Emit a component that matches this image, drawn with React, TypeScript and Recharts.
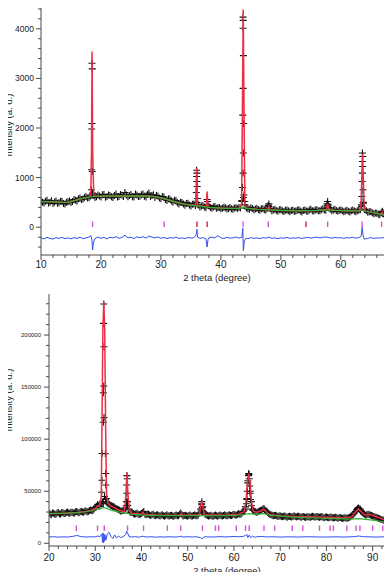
import React from 'react';
import { ComposedChart, Line, Scatter, XAxis, YAxis } from 'recharts';

const FRAME = '#4a4a4a';
const FONT = '"Liberation Sans", Arial, Helvetica, sans-serif';
const OBS = '#111111';
const CALC = '#ec2e44';
const BG = '#34b233';
const DIFF = '#3350f0';
const TICK_PINK = '#d64fd6';
const TICK_RED = '#d0213f';

// ================= TOP PATTERN (10-67.7 deg) =================
const TOP_X_TICKS = [10, 12, 14, 16, 18, 20, 22, 24, 26, 28, 30, 32, 34, 36, 38, 40, 42, 44, 46, 48, 50, 52, 54, 56, 58, 60, 62, 64, 66];
const TOP_Y_TICKS = [-400, -200, 0, 200, 400, 600, 800, 1000, 1200, 1400, 1600, 1800, 2000, 2200, 2400, 2600, 2800, 3000, 3200, 3400, 3600, 3800, 4000, 4200, 4400];

const TOP_BG: [number, number][] = [
  [10, 518], [11, 515], [12, 511], [13, 505], [14, 498], [15, 515], [16, 552], [17, 585], [18, 606], [18.5, 619],
  [19, 622], [20, 625], [22, 628], [25, 632], [28, 628], [29, 615], [30, 590], [31, 560], [32, 525], [33, 490],
  [34, 465], [35, 447], [36, 430], [37, 415], [38, 400], [40, 385], [42, 378], [43, 380], [43.7, 405], [44.3, 380],
  [46, 362], [48, 348], [50, 338], [53, 330], [56, 338], [57.7, 348], [59, 340], [61, 330], [63, 330], [63.5, 350],
  [64.2, 322], [65.4, 295], [66.5, 265], [67.7, 225],
];

const TOP_CALC: [number, number][] = [
  [10, 518], [11, 515], [12, 511], [13, 505], [14, 498], [15, 515], [16, 552], [17, 585], [18, 606],
  [18.3, 640], [18.42, 1500], [18.52, 3540], [18.62, 1500], [18.8, 640],
  [19, 622], [20, 625], [22, 628], [25, 632], [28, 628], [29, 615], [30, 590], [31, 560], [32, 525], [33, 490],
  [34, 465], [35, 447], [35.8, 455], [35.95, 1190], [36.1, 450], [37, 418],
  [37.55, 420], [37.7, 720], [37.85, 412], [38, 400], [40, 385], [42, 378], [43, 385],
  [43.45, 450], [43.6, 2500], [43.72, 4390], [43.85, 2500], [44.0, 450], [44.3, 385],
  [46, 362], [47.8, 355], [48.0, 420], [48.2, 350], [50, 338], [53, 330], [56, 338],
  [57.6, 355], [57.8, 470], [58.0, 352], [59, 340], [61, 330], [63, 332],
  [63.35, 380], [63.5, 1000], [63.62, 1480], [63.75, 1000], [63.9, 360], [64.2, 322], [65.4, 295],
  [66.5, 265], [66.7, 262], [66.9, 310], [67.1, 250], [67.7, 225],
];

const TOP_OBS: [number, number][] = [
  [10, 530], [10.5, 490], [11, 545], [11.5, 505], [12, 480], [12.5, 530], [13, 495], [13.5, 520], [14, 470], [14.5, 515],
  [15, 500], [15.5, 560], [16, 530], [16.5, 590], [17, 570], [17.5, 620], [18, 595], [18.5, 650], [19, 600], [19.5, 650],
  [20, 610], [20.5, 660], [21, 620], [21.5, 640], [22, 600], [22.5, 670], [23, 620], [23.5, 645], [24, 700], [24.5, 615],
  [25, 660], [25.5, 610], [26, 650], [26.5, 625], [27, 670], [27.5, 610], [28, 690], [28.5, 640], [29, 600], [29.5, 630],
  [30, 575], [30.5, 610], [31, 540], [31.5, 570], [32, 505], [32.5, 540], [33, 470], [33.5, 500], [34, 445], [34.5, 485],
  [35, 430], [35.5, 470], [36, 500], [36.5, 410], [37, 440], [37.5, 395], [38, 430], [38.5, 380], [39, 420], [39.5, 395],
  [40, 370], [40.5, 405], [41, 365], [41.5, 400], [42, 360], [42.5, 395], [43, 400], [43.5, 520], [44, 450], [44.5, 370],
  [45, 395], [45.5, 350], [46, 380], [46.5, 340], [47, 370], [47.5, 345], [48, 420], [48.5, 330], [49, 360], [49.5, 320],
  [50, 350], [50.5, 315], [51, 345], [51.5, 310], [52, 340], [52.5, 325], [53, 350], [53.5, 305], [54, 345], [54.5, 320],
  [55, 360], [55.5, 325], [56, 350], [56.5, 330], [57, 370], [57.5, 340], [58, 400], [58.5, 330], [59, 360], [59.5, 320],
  [60, 345], [60.5, 310], [61, 340], [61.5, 305], [62, 345], [62.5, 310], [63, 340], [63.5, 420], [64, 360], [64.5, 300],
  [65, 310], [65.5, 270], [66, 280], [66.5, 250], [67, 280], [67.5, 215],
  // intermediate points
  [10.25, 505], [10.75, 525], [11.25, 490], [11.75, 535], [12.25, 510], [12.75, 485], [13.25, 525], [13.75, 480],
  [14.25, 505], [14.75, 530], [15.25, 520], [15.75, 545], [16.25, 575], [16.75, 560], [17.25, 600], [17.75, 590],
  [18.25, 630], [18.75, 640], [19.25, 615], [19.75, 630], [20.25, 655], [20.75, 605], [21.25, 650], [21.75, 615],
  [22.25, 640], [22.75, 610], [23.25, 660], [23.75, 620], [24.25, 650], [24.75, 640], [25.25, 615], [25.75, 670],
  [26.25, 620], [26.75, 655], [27.25, 625], [27.75, 660], [28.25, 620], [28.75, 655], [29.25, 640], [29.75, 590],
  [30.25, 620], [30.75, 560], [31.25, 575], [31.75, 530], [32.25, 545], [32.75, 495], [33.25, 505], [33.75, 470],
  [34.25, 480], [34.75, 450], [35.25, 465], [35.75, 440], [36.25, 450], [36.75, 430], [37.25, 410], [37.75, 450],
  [38.25, 400], [38.75, 410], [39.25, 380], [39.75, 400], [40.25, 380], [40.75, 395], [41.25, 375], [41.75, 370],
  [42.25, 390], [42.75, 375], [43.25, 390], [43.75, 600], [44.25, 390], [44.75, 360], [45.25, 375], [45.75, 365],
  [46.25, 355], [46.75, 370], [47.25, 350], [47.75, 380], [48.25, 370], [48.75, 345], [49.25, 335], [49.75, 350],
  [50.25, 330], [50.75, 340], [51.25, 330], [51.75, 335], [52.25, 320], [52.75, 340], [53.25, 325], [53.75, 335],
  [54.25, 325], [54.75, 345], [55.25, 330], [55.75, 345], [56.25, 330], [56.75, 350], [57.25, 345], [57.75, 430],
  [58.25, 360], [58.75, 345], [59.25, 335], [59.75, 340], [60.25, 330], [60.75, 325], [61.25, 320], [61.75, 330],
  [62.25, 325], [62.75, 330], [63.25, 350], [63.75, 500], [64.25, 330], [64.75, 310], [65.25, 290], [65.75, 285],
  [66.25, 260], [66.75, 290], [67.25, 245],
  // peak points
  [18.45, 1980], [18.5, 3307], [18.55, 3192], [18.5, 2090], [18.45, 1158], [18.55, 1124], [18.4, 754], [18.6, 687],
  [35.95, 1150], [36.0, 1091], [35.95, 1024], [36.0, 922], [36.05, 821], [35.9, 700], [36.1, 580],
  [37.7, 560], [37.75, 520],
  [43.7, 4236], [43.72, 4170], [43.7, 4010], [43.75, 3460], [43.7, 2800], [43.65, 2260], [43.8, 2090], [43.75, 1495],
  [43.7, 1091], [43.6, 800], [43.85, 650], [43.5, 540], [43.95, 520],
  [48.0, 470], [47.9, 440], [57.8, 520], [57.7, 470], [57.9, 450],
  [63.6, 1495], [63.65, 1426], [63.6, 1325], [63.65, 1224], [63.6, 1091], [63.55, 921], [63.7, 754], [63.5, 618],
  [63.75, 485], [63.45, 450], [66.9, 320], [67.0, 300],
];

const TOP_DIFF: [number, number][] = [
  [10, -215], [10.5, -235], [11, -205], [11.5, -225], [12, -240], [12.5, -210], [13, -225], [13.5, -205], [14, -230],
  [14.5, -215], [15, -235], [15.5, -210], [16, -225], [16.5, -200], [17, -230], [17.5, -215], [18, -200], [18.3, -170],
  [18.5, -260], [18.6, -460], [18.75, -300], [19, -230], [19.5, -195], [20, -225], [20.5, -205], [21, -235], [21.5, -200],
  [22, -215], [22.5, -190], [23, -225], [23.5, -205], [24, -160], [24.5, -215], [25, -200], [25.5, -230], [26, -195],
  [26.5, -210], [27, -190], [27.5, -220], [28, -180], [28.5, -200], [29, -215], [29.5, -195], [30, -225], [30.5, -205],
  [31, -230], [31.5, -210], [32, -220], [32.5, -200], [33, -225], [33.5, -215], [34, -230], [34.5, -205], [35, -220],
  [35.5, -210], [35.9, -150], [36.0, -40], [36.1, -200], [36.5, -225], [37, -210], [37.5, -230], [37.7, -400],
  [37.85, -250], [38, -215], [38.5, -200], [39, -215], [39.5, -170], [40, -215], [40.5, -225], [41, -205], [41.5, -220],
  [42, -215], [42.5, -195], [43, -220], [43.5, -200], [43.65, -20], [43.75, -470], [43.9, -280], [44.2, -220],
  [44.5, -230], [45, -210], [45.5, -225], [46, -215], [46.5, -230], [47, -210], [47.5, -220], [48, -200], [48.5, -225],
  [49, -215], [49.5, -230], [50, -215], [50.5, -220], [51, -205], [51.5, -225], [52, -215], [52.5, -220], [53, -210],
  [53.5, -225], [54, -215], [54.5, -205], [55, -220], [55.5, -210], [56, -200], [56.5, -215], [57, -205], [57.5, -195],
  [58, -210], [58.5, -220], [59, -205], [59.5, -215], [60, -210], [60.5, -225], [61, -210], [61.5, -215], [62, -205],
  [62.5, -220], [63, -210], [63.4, -180], [63.55, 0], [63.7, -150], [63.9, -240], [64.5, -225], [65, -210], [65.5, -225],
  [66, -215], [66.5, -220], [67, -210], [67.5, -225], [67.7, -215],
];

const TOP_BRAGG_PINK = [18.6, 30.55, 43.7, 47.9, 57.8, 63.55, 66.8];
const TOP_BRAGG_RED = [36.0, 37.7, 54.2];
const TOP_BRAGG_LEVEL = 60;

// ================= BOTTOM PATTERN (20-93 deg) =================
const BOT_X_TICKS = [20, 22, 24, 26, 28, 30, 32, 34, 36, 38, 40, 42, 44, 46, 48, 50, 52, 54, 56, 58, 60, 62, 64, 66, 68, 70, 72, 74, 76, 78, 80, 82, 84, 86, 88, 90, 92];
const BOT_Y_TICKS = [0, 10000, 20000, 30000, 40000, 50000, 60000, 70000, 80000, 90000, 100000, 110000, 120000, 130000, 140000, 150000, 160000, 170000, 180000, 190000, 200000, 210000, 220000, 230000];

const BOT_BG: [number, number][] = [
  [20, 28500], [22, 28700], [24, 29000], [26, 29500], [28, 30300], [30, 32000], [31, 33500], [31.8, 34300], [32.5, 33500],
  [33, 32500], [34, 31200], [35, 30200], [36, 29200], [36.9, 28800], [37.5, 28200], [38, 27800], [40, 27200], [42, 26900],
  [45, 26600], [48, 26500], [50, 26500], [53, 26600], [55, 26400], [58, 26500], [60, 26700], [62, 27200], [63.2, 28500],
  [64.5, 27800], [66.4, 28500], [68, 26800], [70, 26000], [72, 25300], [75, 24700], [78, 24300], [80, 24000], [83, 23600],
  [85, 23300], [87, 23600], [88, 23200], [90, 22200], [91.5, 21200], [93, 19900],
];

const BOT_CALC: [number, number][] = [
  [20, 28500], [22, 28700], [24, 29000], [26, 29600], [28, 30500], [29.5, 32000], [30.2, 34000], [30.5, 36000],
  [30.9, 35500], [31.3, 45000], [31.45, 110000], [31.65, 205000], [31.85, 232000], [32.05, 205000], [32.25, 110000],
  [32.45, 48000], [32.7, 38500], [33.2, 36500], [34, 34500], [35, 32000], [36.3, 30500], [36.6, 45000], [36.85, 67500],
  [37.1, 45000], [37.4, 31000], [38, 28800], [40, 28000], [40.3, 30000], [40.6, 28000], [44, 27000], [48.3, 27000],
  [48.6, 28600], [48.9, 26900], [52.5, 27500], [52.8, 34000], [53.05, 40500], [53.3, 34000], [53.6, 27500], [58, 26900],
  [61, 28000], [62.2, 30000], [62.6, 40000], [62.9, 58000], [63.2, 67000], [63.5, 58000], [63.8, 40000], [64.2, 30500],
  [65, 29800], [66.0, 31500], [66.4, 33000], [66.8, 31000], [67.5, 28000], [70, 26200], [72, 26000], [74, 25600],
  [76, 25400], [78, 25300], [80, 25000], [84, 24300], [85.5, 25500], [86.3, 30000], [86.9, 33000], [87.5, 30500],
  [88.2, 27500], [89.6, 27500], [90.5, 26000], [92, 23500], [93, 21500],
];

const BOT_OBS: [number, number][] = [
  [20, 29000], [20.5, 27500], [21, 28800], [21.5, 27800], [22, 29500], [22.5, 28000], [23, 29400], [23.5, 28600],
  [24, 30000], [24.5, 28800], [25, 29800], [25.5, 29000], [26, 30500], [26.5, 29400], [27, 30600], [27.5, 29800],
  [28, 31000], [28.5, 30200], [29, 32000], [29.5, 31500], [30, 34500], [30.5, 37000], [31, 35500], [31.5, 40000],
  [32, 45000], [32.5, 39500], [33, 37500], [33.5, 36000], [34, 35000], [34.5, 33500], [35, 32500], [35.5, 31000],
  [36, 31500], [36.5, 33000], [37, 36000], [37.5, 30000], [38, 29500], [38.5, 28000], [39, 28800], [39.5, 27600],
  [40, 28500], [40.5, 30500], [41, 27500], [41.5, 28200], [42, 26800], [42.5, 27800], [43, 26500], [43.5, 27500],
  [44, 26200], [44.5, 27400], [45, 26000], [45.5, 27300], [46, 26100], [46.5, 27000], [47, 25900], [47.5, 27200],
  [48, 26500], [48.5, 29000], [49, 26200], [49.5, 27000], [50, 25900], [50.5, 27200], [51, 26100], [51.5, 27300],
  [52, 26500], [52.5, 29000], [53, 38000], [53.5, 30000], [54, 27500], [54.5, 26200], [55, 27000], [55.5, 25900],
  [56, 27200], [56.5, 26000], [57, 27100], [57.5, 26200], [58, 27300], [58.5, 26300], [59, 27500], [59.5, 26600],
  [60, 27800], [60.5, 27000], [61, 28500], [61.5, 28000], [62, 30500], [62.5, 35000], [63, 60000], [63.5, 50000],
  [64, 33000], [64.5, 30500], [65, 29500], [65.5, 31000], [66, 32000], [66.5, 33500], [67, 30500], [67.5, 28500],
  [68, 27500], [68.5, 26500], [69, 27000], [69.5, 25800], [70, 26500], [70.5, 25400], [71, 26200], [71.5, 25000],
  [72, 26000], [72.5, 25200], [73, 26400], [73.5, 25300], [74, 26000], [74.5, 25000], [75, 25800], [75.5, 24800],
  [76, 25600], [76.5, 25000], [77, 26000], [77.5, 25200], [78, 25800], [78.5, 24900], [79, 25600], [79.5, 24600],
  [80, 25400], [80.5, 24500], [81, 25200], [81.5, 24300], [82, 25000], [82.5, 24100], [83, 24800], [83.5, 23900],
  [84, 24500], [84.5, 24000], [85, 25000], [85.5, 26500], [86, 29000], [86.5, 32000], [87, 33500], [87.5, 31000],
  [88, 28500], [88.5, 27000], [89, 27800], [89.5, 27200], [90, 26200], [90.5, 25300], [91, 24500], [91.5, 23500],
  [92, 22800], [92.5, 21800], [93, 21000],
  // intermediate points
  [20.25, 28200], [20.75, 29200], [21.25, 28000], [21.75, 29000], [22.25, 28400], [22.75, 29600], [23.25, 28500],
  [23.75, 29500], [24.25, 29000], [24.75, 29800], [25.25, 29200], [25.75, 30200], [26.25, 29600], [26.75, 30400],
  [27.25, 30000], [27.75, 31000], [28.25, 30400], [28.75, 31500], [29.25, 31200], [29.75, 33000], [30.25, 35500],
  [30.75, 36000], [31.25, 38000], [31.75, 38500], [32.25, 42000], [32.75, 38000], [33.25, 36500], [33.75, 35500],
  [34.25, 34500], [34.75, 33000], [35.25, 31800], [35.75, 31000], [36.25, 32000], [36.75, 40000], [37.25, 33000],
  [37.75, 29500], [38.25, 28600], [38.75, 28400], [39.25, 28200], [39.75, 27800], [40.25, 29500], [40.75, 28000],
  [41.25, 27800], [41.75, 27200], [42.25, 27400], [42.75, 26900], [43.25, 27100], [43.75, 26700], [44.25, 26900],
  [44.75, 26500], [45.25, 26800], [45.75, 26400], [46.25, 26700], [46.75, 26300], [47.25, 26600], [47.75, 26500],
  [48.25, 27800], [48.75, 27500], [49.25, 26600], [49.75, 26400], [50.25, 26700], [50.75, 26300], [51.25, 26800],
  [51.75, 26500], [52.25, 27000], [52.75, 33000], [53.25, 35000], [53.75, 28000], [54.25, 26800], [54.75, 26500],
  [55.25, 26300], [55.75, 26700], [56.25, 26400], [56.75, 26800], [57.25, 26500], [57.75, 26800], [58.25, 26700],
  [58.75, 27000], [59.25, 26800], [59.75, 27300], [60.25, 27200], [60.75, 27600], [61.25, 28000], [61.75, 29000],
  [62.25, 32000], [62.75, 42000], [63.25, 66000], [63.75, 40000], [64.25, 31500], [64.75, 30000], [65.25, 30500],
  [65.75, 31500], [66.25, 33000], [66.75, 32000], [67.25, 29500], [67.75, 28000], [68.25, 27000], [68.75, 26800],
  [69.25, 26400], [69.75, 26200], [70.25, 25800], [70.75, 26000], [71.25, 25500], [71.75, 25800], [72.25, 25600],
  [72.75, 25800], [73.25, 25700], [73.75, 25900], [74.25, 25400], [74.75, 25500], [75.25, 25200], [75.75, 25400],
  [76.25, 25200], [76.75, 25600], [77.25, 25400], [77.75, 25600], [78.25, 25300], [78.75, 25400], [79.25, 25000],
  [79.75, 25100], [80.25, 24800], [80.75, 25000], [81.25, 24700], [81.75, 24800], [82.25, 24500], [82.75, 24600],
  [83.25, 24300], [83.75, 24400], [84.25, 24200], [84.75, 24600], [85.25, 25600], [85.75, 27500], [86.25, 30500],
  [86.75, 33500], [87.25, 32500], [87.75, 29500], [88.25, 27800], [88.75, 27400], [89.25, 27500], [89.75, 26800],
  [90.25, 25800], [90.75, 24900], [91.25, 24000], [91.75, 23200], [92.25, 22300], [92.75, 21400],
  // peak points
  [31.85, 229800], [31.8, 211200], [31.9, 188700], [31.85, 151000], [31.75, 144500], [31.9, 120800], [31.75, 116300],
  [31.5, 86200], [32.2, 86000], [32.25, 67000], [31.45, 60600], [32.3, 56000], [31.4, 49000], [32.4, 43000],
  [36.85, 65000], [36.9, 62000], [36.8, 56000], [36.85, 48000], [36.95, 40000], [36.7, 36000], [37.0, 36500],
  [53.05, 40000], [53.0, 37000], [53.1, 34000], [52.9, 31000], [53.2, 31500],
  [63.2, 67000], [63.15, 65000], [63.3, 62000], [63.0, 58000], [63.4, 55000], [62.9, 50000], [63.5, 48000],
  [62.8, 43000], [63.6, 42000], [62.7, 38000], [63.8, 36000], [62.5, 33000], [64.0, 32000],
  [86.9, 34000], [86.6, 32500], [87.3, 33000], [86.3, 30500], [87.6, 30500],
];

const BOT_DIFF: [number, number][] = [
  [20, 6000], [21, 6300], [22, 5900], [23, 6200], [24, 6000], [25, 6500], [26, 7500], [27, 6400], [28, 6000],
  [29, 6300], [30, 6100], [30.5, 7000], [31, 6200], [31.4, 9000], [31.6, 1000], [31.7, 10000], [31.8, 500],
  [31.9, 9000], [32.0, 2000], [32.1, 8000], [32.3, 3000], [32.6, 9000], [33, 10500], [33.4, 6500], [33.8, 4500],
  [34.2, 8000], [34.6, 5000], [35, 7000], [35.5, 5500], [36, 6200], [36.6, 8500], [36.8, 11500], [37.0, 10000],
  [37.3, 6500], [37.8, 6000], [38.5, 6400], [39.5, 5900], [40.3, 6800], [41, 6000], [42, 6300], [43, 5900],
  [44, 6200], [45, 6000], [46, 6300], [47, 6000], [48, 6200], [48.6, 6800], [49, 6000], [50, 6300], [51, 6100],
  [52, 6200], [52.8, 5200], [53.1, 4200], [53.5, 6000], [54, 6300], [55, 6000], [56, 6200], [57, 6400], [58, 6100],
  [59, 6300], [60, 6500], [61, 6300], [62, 6600], [62.5, 7500], [62.8, 8500], [63.0, 5500], [63.3, 7800],
  [63.6, 5500], [64.0, 6800], [64.5, 5800], [65, 6300], [66, 6600], [67, 6100], [68, 6300], [70, 6000], [72, 6200],
  [74, 6000], [76, 6300], [78, 6100], [80, 6000], [82, 6200], [84, 6000], [86, 6400], [87, 7000], [88, 6300],
  [90, 6100], [91, 6000], [92, 6200], [93, 6100],
];

const BOT_BRAGG = [25.9, 30.5, 31.95, 36.98, 40.45, 45.6, 48.5, 53.2, 56.0, 56.7, 60.5, 62.5, 63.3, 66.5, 68.8, 72.6,
  74.9, 78.5, 80.8, 81.5, 84.4, 86.4, 87.25, 90.0, 92.2, 92.9];
const BOT_BRAGG_LEVEL = 14500;

// axis titles
const X_TITLE = '2 theta (degree)';
const Y_TITLE = 'Intensity (a. u.)';

// ================= helpers =================
const pts = (a: [number, number][]) => a.map(([x, y]) => ({ x, y }));
const braggPts = (a: number[], level: number) => a.map((x) => ({ x, y: level }));

const plusShape = (props: any) => {
  const { cx, cy } = props;
  if (cx == null || cy == null) return <g />;
  return <path d={`M${cx - 3.5},${cy}h7M${cx},${cy - 3.5}v7`} stroke={OBS} strokeWidth={1.1} fill="none" />;
};

const barShape = (color: string) => (props: any) => {
  const { cx, cy } = props;
  if (cx == null || cy == null) return <g />;
  return <line x1={cx} x2={cx} y1={cy - 2.7} y2={cy + 2.7} stroke={color} strokeWidth={1.4} />;
};

type Orient = 'bottom' | 'top' | 'left' | 'right';
const makeTick = (orient: Orient, majorStep: number, labelFont: number, labelGap: number) => (props: any) => {
  const { x, y, payload } = props;
  const v = payload.value as number;
  const major = Math.abs(v % majorStep) < 1e-6;
  const len = major ? 5 : 3;
  let line: React.ReactNode = null;
  let text: React.ReactNode = null;
  if (orient === 'bottom') {
    line = <line x1={x} x2={x} y1={y} y2={y + len} stroke={FRAME} />;
    if (major && labelFont > 0)
      text = <text x={x} y={y + labelGap} textAnchor="middle" fontSize={labelFont} fontFamily={FONT} fill="#222">{v}</text>;
  } else if (orient === 'top') {
    line = <line x1={x} x2={x} y1={y} y2={y - len} stroke={FRAME} />;
  } else if (orient === 'left') {
    line = <line x1={x} x2={x - len} y1={y} y2={y} stroke={FRAME} />;
    if (major && labelFont > 0)
      text = <text x={x - labelGap} y={y} dy="0.35em" textAnchor="end" fontSize={labelFont} fontFamily={FONT} fill="#222">{v}</text>;
  } else {
    line = <line x1={x} x2={x + len} y1={y} y2={y} stroke={FRAME} />;
  }
  return <g>{line}{text}</g>;
};

interface PanelProps {
  height: number;
  marginTop: number;
  xAxisHeight: number;
  yAxisWidth: number;
  xDomain: [number, number];
  yDomain: [number, number];
  xTicks: number[];
  yTicks: number[];
  yMajor: number;
  xFont: number;
  xGap: number;
  yFont: number;
  yGap: number;
  obs: [number, number][];
  calc: [number, number][];
  bg: [number, number][];
  diff: [number, number][];
  braggs: { x: number[]; level: number; color: string }[];
}

function Panel(p: PanelProps) {
  const axisLine = { stroke: FRAME, strokeWidth: 1 };
  return (
    <ComposedChart width={392} height={p.height} margin={{ top: p.marginTop, right: 0, bottom: 0, left: 0 }}>
      <XAxis
        xAxisId={0}
        dataKey="x"
        type="number"
        domain={p.xDomain}
        allowDataOverflow
        ticks={p.xTicks}
        interval={0}
        tickSize={0}
        tickMargin={0}
        tickLine={false}
        axisLine={axisLine}
        height={p.xAxisHeight}
        tick={makeTick('bottom', 10, p.xFont, p.xGap)}
      />
      <XAxis
        xAxisId="t"
        orientation="top"
        dataKey="x"
        type="number"
        domain={p.xDomain}
        allowDataOverflow
        ticks={p.xTicks}
        interval={0}
        tickSize={0}
        tickMargin={0}
        tickLine={false}
        axisLine={axisLine}
        height={0}
        tick={makeTick('top', 10, 0, 0)}
      />
      <YAxis
        yAxisId={0}
        type="number"
        domain={p.yDomain}
        allowDataOverflow
        ticks={p.yTicks}
        interval={0}
        tickSize={0}
        tickMargin={0}
        tickLine={false}
        axisLine={axisLine}
        width={p.yAxisWidth}
        tick={makeTick('left', p.yMajor, p.yFont, p.yGap)}
      />
      <YAxis
        yAxisId="r"
        orientation="right"
        type="number"
        domain={p.yDomain}
        allowDataOverflow
        ticks={p.yTicks}
        interval={0}
        tickSize={0}
        tickMargin={0}
        tickLine={false}
        axisLine={axisLine}
        width={5}
        tick={makeTick('right', p.yMajor, 0, 0)}
      />
      <Scatter data={pts(p.obs)} dataKey="y" shape={plusShape} isAnimationActive={false} zIndex={100} />
      <Line data={pts(p.calc)} dataKey="y" type="linear" stroke={CALC} strokeWidth={1.5} dot={false} activeDot={false} isAnimationActive={false} zIndex={400} />
      <Line data={pts(p.bg)} dataKey="y" type="linear" stroke={BG} strokeWidth={1.2} dot={false} activeDot={false} isAnimationActive={false} zIndex={410} />
      <Line data={pts(p.diff)} dataKey="y" type="linear" stroke={DIFF} strokeWidth={1} dot={false} activeDot={false} isAnimationActive={false} zIndex={420} />
      {p.braggs.map((b, i) => (
        <Scatter key={i} data={braggPts(b.x, b.level)} dataKey="y" shape={barShape(b.color)} isAnimationActive={false} zIndex={650} />
      ))}
    </ComposedChart>
  );
}

const yTitleStyle = (cx: number, cy: number): React.CSSProperties => ({
  position: 'absolute',
  left: cx,
  top: cy,
  transform: 'translate(-50%, -50%) rotate(-90deg)',
  whiteSpace: 'nowrap',
  fontFamily: FONT,
  fontSize: 9.5,
  lineHeight: '11px',
  color: '#222',
});

export default function App() {
  return (
    <div style={{ position: 'relative', width: 392, height: 580, margin: -8, background: '#fff', overflow: 'hidden' }}>
      <div style={{ position: 'absolute', left: 0, top: 0 }}>
        <Panel
          height={290}
          marginTop={4}
          xAxisHeight={35}
          yAxisWidth={41}
          xDomain={[10, 67.7]}
          yDomain={[-560, 4500]}
          xTicks={TOP_X_TICKS}
          yTicks={TOP_Y_TICKS}
          yMajor={1000}
          xFont={10}
          xGap={13}
          yFont={8.5}
          yGap={7}
          obs={TOP_OBS}
          calc={TOP_CALC}
          bg={TOP_BG}
          diff={TOP_DIFF}
          braggs={[
            { x: TOP_BRAGG_PINK, level: TOP_BRAGG_LEVEL, color: TICK_PINK },
            { x: TOP_BRAGG_RED, level: TOP_BRAGG_LEVEL, color: TICK_RED },
          ]}
        />
      </div>
      <div style={{ position: 'absolute', left: 0, top: 290 }}>
        <Panel
          height={290}
          marginTop={4}
          xAxisHeight={34}
          yAxisWidth={49}
          xDomain={[20, 93.1]}
          yDomain={[-2600, 239400]}
          xTicks={BOT_X_TICKS}
          yTicks={BOT_Y_TICKS}
          yMajor={50000}
          xFont={10}
          xGap={14.5}
          yFont={6}
          yGap={8}
          obs={BOT_OBS}
          calc={BOT_CALC}
          bg={BOT_BG}
          diff={BOT_DIFF}
          braggs={[{ x: BOT_BRAGG, level: BOT_BRAGG_LEVEL, color: TICK_PINK }]}
        />
      </div>
      <svg width={392} height={580} style={{ position: 'absolute', left: 0, top: 0, pointerEvents: 'none' }}>
        <text x={217} y={280.5} textAnchor="middle" fontSize={9.5} fontFamily={FONT} fill="#222">{X_TITLE}</text>
        <text x={227} y={573.5} textAnchor="middle" fontSize={9.5} fontFamily={FONT} fill="#222">{X_TITLE}</text>
      </svg>
      <div style={yTitleStyle(8, 125)}>{Y_TITLE}</div>
      <div style={yTitleStyle(8, 400)}>{Y_TITLE}</div>
    </div>
  );
}
